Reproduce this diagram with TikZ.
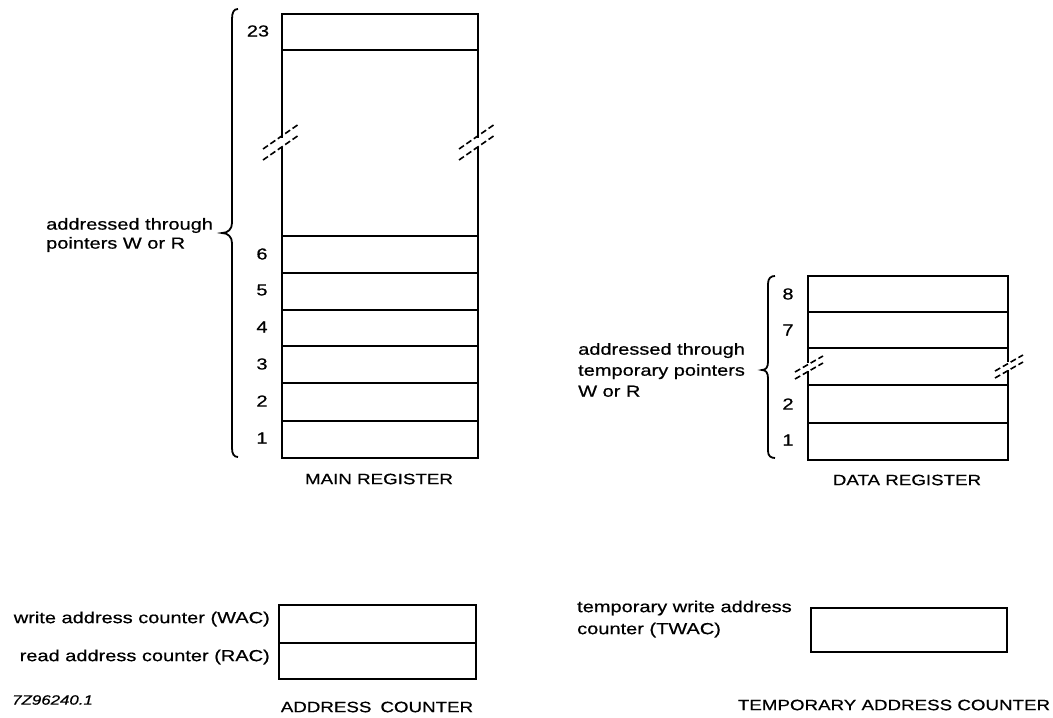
\documentclass[tikz,border=0pt]{standalone}
\usepackage{fontspec}
\setmainfont{Liberation Sans}[FakeStretch=1.25,FakeBold=0.6]
\begin{document}
\begin{tikzpicture}[x=1pt,y=-1pt,
  lw/.style={line width=2.2pt},
  cell/.style={draw,lw,inner sep=0pt,anchor=north west,minimum width=#1},
  cell/.default=196pt,
  lbl/.style={inner sep=0pt,font=\fontsize{16}{19}\selectfont},
  captxt/.style={inner sep=0pt,font=\fontsize{15}{18}\selectfont},
  num/.style={inner sep=0pt,font=\fontsize{16}{19}\selectfont},
  brk/.style={line width=1.6pt,dash pattern=on 6pt off 3pt},
  bracepath/.style={line width=1.8pt}]
\useasboundingbox (0,0) rectangle (1053,718);
% ---------- main register ----------
\node[cell,minimum height=36pt] (m23) at (281,13) {};
\node[cell,minimum height=186pt] (mgap) at (281,49) {};
\node[cell,minimum height=37pt] (m6) at (281,235) {};
\node[cell,minimum height=37pt] (m5) at (281,272) {};
\node[cell,minimum height=36pt] (m4) at (281,309) {};
\node[cell,minimum height=37pt] (m3) at (281,345) {};
\node[cell,minimum height=38pt] (m2) at (281,382) {};
\node[cell,minimum height=37pt] (m1) at (281,420) {};
\node[num] (n23) at (258,31) {23};
\node[num] (n6) at (262,254) {6};
\node[num] (n5) at (262,290) {5};
\node[num] (n4) at (262,327) {4};
\node[num] (n3) at (262,364) {3};
\node[num] (n2) at (262,401) {2};
\node[num] (n1) at (262,438) {1};
% breaks
\fill[white] (278,138) rectangle (284,147);
\fill[white] (474,138) rectangle (480,147);
\draw[brk] (263,149) -- (299,124);
\draw[brk] (263,160) -- (299,135);
\draw[brk] (459,149) -- (495,124);
\draw[brk] (459,160) -- (495,135);
% brace
\draw[bracepath] (238,9) .. controls (234,9) and (232,12) .. (232,19) -- (232,223)
  .. controls (232,229) and (228,233) .. (222,233)
  .. controls (228,233) and (232,237) .. (232,243) -- (232,448)
  .. controls (232,454) and (234,457) .. (238,457);
\node[lbl,anchor=west,align=left] (mtext) at (46,235) {addressed through\\pointers W or R};
\node[captxt] (mcap) at (379,479) {MAIN REGISTER};
% ---------- data register ----------
\node[cell=200pt,minimum height=36pt] (d8) at (807,275) {};
\node[cell=200pt,minimum height=36pt] (d7) at (807,311) {};
\node[cell=200pt,minimum height=37pt] (dgap) at (807,347) {};
\node[cell=200pt,minimum height=38pt] (d2) at (807,384) {};
\node[cell=200pt,minimum height=37pt] (d1) at (807,422) {};
\node[num] (dn8) at (788,294) {8};
\node[num] (dn7) at (788,330) {7};
\node[num] (dn2) at (788,404) {2};
\node[num] (dn1) at (788,440) {1};
\fill[white] (804,363) rectangle (811,371);
\fill[white] (1004,362) rectangle (1011,370);
\draw[brk] (795,372) -- (823,356);
\draw[brk] (795,379) -- (823,363);
\draw[brk] (995,371) -- (1023,355);
\draw[brk] (995,378) -- (1023,362);
\draw[bracepath] (775,276) .. controls (771,276) and (768,278) .. (768,284) -- (768,362)
  .. controls (768,367) and (766,370) .. (762,370)
  .. controls (766,370) and (768,373) .. (768,378) -- (768,451)
  .. controls (768,456) and (771,458) .. (775,458);
\node[lbl,anchor=west,align=left,font=\fontsize{16}{21}\selectfont] (dtext) at (578,370) {addressed through\\temporary pointers\\W or R};
\node[captxt] (dcap) at (907,480) {DATA REGISTER};
% ---------- address counter ----------
\node[cell=197pt,minimum height=38pt] (wac) at (278,604) {};
\node[cell=197pt,minimum height=36pt] (rac) at (278,642) {};
\node[lbl,anchor=east] (wact) at (270,619) {write address counter (WAC)};
\node[lbl,anchor=east] (ract) at (270,657) {read address counter (RAC)};
\node[inner sep=0pt,anchor=west,font=\fontsize{13.5}{16}\itshape] (code) at (12,700) {7Z96240.1};
\node[captxt] (acap) at (377,707) {ADDRESS\hspace{0.6em}COUNTER};
% ---------- temporary address counter ----------
\node[cell=196pt,minimum height=44pt] (twac) at (810,607) {};
\node[lbl,anchor=west,align=left,font=\fontsize{16}{22}\selectfont] (twact) at (577,619) {temporary write address\\counter (TWAC)};
\node[captxt] (tcap) at (894,705) {TEMPORARY ADDRESS COUNTER};
\end{tikzpicture}
\end{document}
